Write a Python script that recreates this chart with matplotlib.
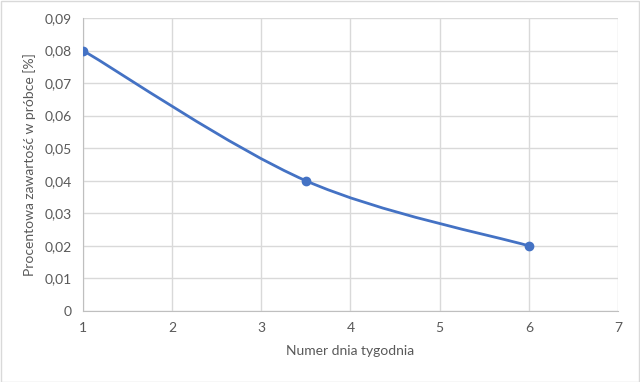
import matplotlib.pyplot as plt
import numpy as np
from matplotlib.path import Path
from matplotlib.patches import PathPatch
from matplotlib.ticker import FuncFormatter

# data
dzien = [1, 3.5, 6]
zawartosc = [0.08, 0.04, 0.02]
x_ticks = [1, 2, 3, 4, 5, 6, 7]
y_ticks = [0, 0.01, 0.02, 0.03, 0.04, 0.05, 0.06, 0.07, 0.08, 0.09]

blue = "#4472C4"
txt = "#595959"
plt.rcParams["font.family"] = ["Lato", "DejaVu Sans"]


def smooth_path(xs, ys):
	# bezier segments like Excel's "smoothed line"
	pts = np.column_stack([xs, ys])
	n = len(pts)
	verts = [pts[0]]
	codes = [Path.MOVETO]
	for i in range(n - 1):
		p0 = pts[max(i - 1, 0)]
		p1 = pts[i]
		p2 = pts[i + 1]
		p3 = pts[min(i + 2, n - 1)]
		c1 = p1 + (p2 - p0) / 6.0
		c2 = p2 - (p3 - p1) / 6.0
		verts += [c1, c2, p2]
		codes += [Path.CURVE4] * 3
	return Path(verts, codes)


fig = plt.figure(figsize=(6.4, 3.82), dpi=100)
ax = fig.add_axes([0.1297, 0.1859, 0.8359, 0.7671])

ax.add_patch(PathPatch(smooth_path(dzien, zawartosc), fill=False, edgecolor=blue, lw=2, zorder=3))
ax.plot(dzien, zawartosc, "o", color=blue, ms=6, zorder=4)

ax.set_xlim(1, 7)
ax.set_ylim(0, 0.09)
ax.set_xticks(x_ticks)
ax.set_yticks(y_ticks)
ax.yaxis.set_major_formatter(FuncFormatter(lambda v, p: "0" if v == 0 else ("%.2f" % v).replace(".", ",")))
ax.grid(True, color="#d9d9d9", lw=1)
ax.set_axisbelow(True)
for s in ["top", "right"]:
	ax.spines[s].set_visible(False)
for s in ["left", "bottom"]:
	ax.spines[s].set_color("#bfbfbf")
ax.tick_params(length=0, labelsize=10, colors=txt, pad=8)
ax.set_xlabel("Numer dnia tygodnia", fontsize=10, color=txt, labelpad=8)
ax.set_ylabel("Procentowa zawartość w próbce [%]", fontsize=10, color=txt, labelpad=6)

fig.patches.append(plt.Rectangle((0.001, 0.001), 0.997, 0.996, transform=fig.transFigure,
	fill=False, edgecolor="#d9d9d9", lw=1))

fig.savefig("out.png", dpi=100)
